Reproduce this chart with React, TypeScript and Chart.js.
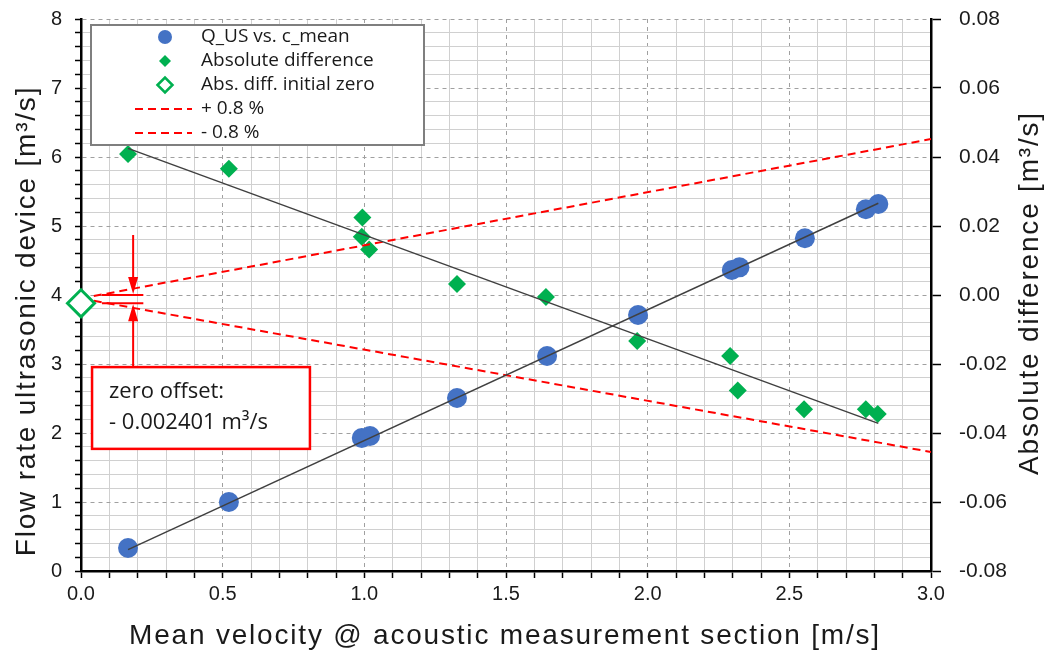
import React, { useEffect, useRef } from 'react';
import { Chart, registerables } from 'chart.js';

Chart.register(...registerables);

// ---- data ----
const velocityQ = [0.166, 0.522, 0.991, 1.02, 1.327, 1.645, 1.966, 2.297, 2.324, 2.555, 2.77, 2.814];
const flowQ = [0.333, 1.0, 1.928, 1.957, 2.507, 3.116, 3.71, 4.362, 4.401, 4.822, 5.242, 5.319];
const velocityDiff = [0.166, 0.522, 0.993, 0.991, 1.017, 1.327, 1.641, 1.963, 2.291, 2.318, 2.552, 2.77, 2.812];
const absDiff = [0.0409, 0.0366, 0.0225, 0.0169, 0.0132, 0.0032, -0.0006, -0.0133, -0.0177, -0.0277, -0.0331, -0.0331, -0.0345];
const zeroVelocity = [0];
const zeroDiff = [-0.002401];
const fitQx = [0.166, 2.814];
const fitQy = [0.31, 5.33];
const fitDiffX = [0.166, 2.814];
const fitDiffY = [0.0425, -0.0372];
const plusX = [0, 3.0];
const plusY = [-0.001, 0.0452];
const minusX = [0, 3.0];
const minusY = [-0.001, -0.0455];

const seriesLabels = ['Q_US vs. c_mean', 'Absolute difference', 'Abs. diff. initial zero', '+ 0.8 %', '- 0.8 %'];
const xTitle = 'Mean velocity @ acoustic measurement section [m/s]';
const yTitle = 'Flow rate ultrasonic device [m³/s]';
const y2Title = 'Absolute difference [m³/s]';
const annotationLines = ['zero offset:', '- 0.002401 m³/s'];

const BLUE = '#4472C4';
const GREEN = '#00B050';
const RED = '#FF0000';
const FIT = '#404040';
const MINOR = '#d0d0d0';
const MAJOR = '#a0a0a0';
const TICK_FONT = '"Liberation Sans", Arial, sans-serif';
const LEG_FONT = '"Open Sans", "Liberation Sans", sans-serif';

const pts = (xs: number[], ys: number[]) => xs.map((x, i) => ({ x, y: ys[i] }));
const isMajor = (v: number, step: number) => Math.abs(v / step - Math.round(v / step)) < 1e-6;

function drawMarker(ctx: CanvasRenderingContext2D, kind: string, x: number, y: number) {
  ctx.save();
  if (kind === 'circle') {
    ctx.fillStyle = BLUE;
    ctx.beginPath();
    ctx.arc(x, y, 7, 0, Math.PI * 2);
    ctx.fill();
  } else if (kind === 'diamond') {
    ctx.fillStyle = GREEN;
    ctx.beginPath();
    ctx.moveTo(x - 6, y); ctx.lineTo(x, y - 6); ctx.lineTo(x + 6, y); ctx.lineTo(x, y + 6);
    ctx.closePath();
    ctx.fill();
  } else if (kind === 'hollow') {
    ctx.strokeStyle = GREEN;
    ctx.fillStyle = '#fff';
    ctx.lineWidth = 2.5;
    ctx.beginPath();
    ctx.moveTo(x - 7.5, y); ctx.lineTo(x, y - 7.5); ctx.lineTo(x + 7.5, y); ctx.lineTo(x, y + 7.5);
    ctx.closePath();
    ctx.fill();
    ctx.stroke();
  } else {
    ctx.strokeStyle = RED;
    ctx.lineWidth = 2;
    ctx.setLineDash([8, 5]);
    ctx.beginPath();
    ctx.moveTo(x - 30, y); ctx.lineTo(x + 27, y);
    ctx.stroke();
  }
  ctx.restore();
}

function drawTitle(ctx: CanvasRenderingContext2D, text: string, x: number, y: number, rot: number) {
  ctx.save();
  ctx.fillStyle = '#1a1a1a';
  ctx.font = `28px ${TICK_FONT}`;
  (ctx as any).letterSpacing = '1.8px';
  ctx.textAlign = 'center';
  ctx.textBaseline = 'middle';
  ctx.translate(x, y);
  ctx.rotate(rot);
  ctx.fillText(text, 0, 0);
  ctx.restore();
}

const overlayPlugin = {
  id: 'overlay',
  afterDraw(chart: any) {
    const ctx: CanvasRenderingContext2D = chart.ctx;
    const xs = chart.scales.x;
    const y2 = chart.scales.y2;

    // --- axis titles ---
    drawTitle(ctx, xTitle, 505, 636, 0);
    drawTitle(ctx, yTitle, 27, 321, -Math.PI / 2);
    drawTitle(ctx, y2Title, 1030, 293, -Math.PI / 2);

    // --- zero-offset annotation ---
    const ax = xs.getPixelForValue(0.184);
    const l0 = xs.getPixelForValue(0.074);
    const l1 = xs.getPixelForValue(0.22);
    const yZero = y2.getPixelForValue(0);
    const yOff = y2.getPixelForValue(zeroDiff[0]);
    const bx0 = xs.getPixelForValue(0.039);
    const bx1 = xs.getPixelForValue(0.808);
    const by0 = y2.getPixelForValue(-0.0209);
    const by1 = y2.getPixelForValue(-0.0446);
    const arrowTop = y2.getPixelForValue(0.0174);

    ctx.save();
    ctx.strokeStyle = RED;
    ctx.fillStyle = RED;
    ctx.lineWidth = 2;
    ctx.beginPath();
    ctx.moveTo(l0, yZero); ctx.lineTo(l1, yZero);
    ctx.moveTo(l0, yOff); ctx.lineTo(l1, yOff);
    ctx.moveTo(ax, arrowTop); ctx.lineTo(ax, yZero - 14);
    ctx.moveTo(ax, by0); ctx.lineTo(ax, yOff + 14);
    ctx.stroke();
    ctx.beginPath();
    ctx.moveTo(ax, yZero - 1); ctx.lineTo(ax - 5, yZero - 18); ctx.lineTo(ax + 5, yZero - 18); ctx.closePath();
    ctx.moveTo(ax, yOff + 1); ctx.lineTo(ax - 5, yOff + 18); ctx.lineTo(ax + 5, yOff + 18); ctx.closePath();
    ctx.fill();

    ctx.fillStyle = '#fff';
    ctx.fillRect(bx0, by0, bx1 - bx0, by1 - by0);
    ctx.lineWidth = 2.5;
    ctx.strokeRect(bx0, by0, bx1 - bx0, by1 - by0);
    ctx.fillStyle = '#1a1a1a';
    ctx.font = `22px ${LEG_FONT}`;
    ctx.textAlign = 'left';
    ctx.textBaseline = 'middle';
    ctx.fillText(annotationLines[0], bx0 + 17, by0 + 25);
    ctx.fillText(annotationLines[1], bx0 + 17, by0 + 56);
    ctx.restore();

    // --- legend box ---
    ctx.save();
    ctx.fillStyle = '#fff';
    ctx.fillRect(91, 25, 333, 120);
    ctx.strokeStyle = '#7f7f7f';
    ctx.lineWidth = 2;
    ctx.strokeRect(91, 25, 333, 120);
    const kinds = ['circle', 'diamond', 'hollow', 'dash', 'dash'];
    ctx.font = `19px ${LEG_FONT}`;
    ctx.textAlign = 'left';
    ctx.textBaseline = 'middle';
    seriesLabels.forEach((label, i) => {
      const yy = 37 + i * 24;
      drawMarker(ctx, kinds[i], 165, yy);
      ctx.fillStyle = '#1a1a1a';
      ctx.fillText(label, 201, yy);
    });
    ctx.restore();
  },
};

export default function App() {
  const ref = useRef<HTMLCanvasElement | null>(null);

  useEffect(() => {
    document.body.style.margin = '0';
    if (!ref.current) return;
    const chart = new Chart(ref.current, {
      type: 'scatter',
      data: {
        datasets: [
          {
            label: '+0.8 line',
            data: pts(plusX, plusY),
            yAxisID: 'y2',
            showLine: true,
            borderColor: RED,
            borderWidth: 2,
            borderDash: [8, 5],
            pointRadius: 0,
            order: 2,
          },
          {
            label: '-0.8 line',
            data: pts(minusX, minusY),
            yAxisID: 'y2',
            showLine: true,
            borderColor: RED,
            borderWidth: 2,
            borderDash: [8, 5],
            pointRadius: 0,
            order: 2,
          },
          {
            label: seriesLabels[0],
            data: pts(velocityQ, flowQ),
            yAxisID: 'y',
            pointStyle: 'circle',
            pointRadius: 10,
            backgroundColor: BLUE,
            borderColor: BLUE,
            borderWidth: 0,
            order: 3,
          },
          {
            label: seriesLabels[1],
            data: pts(velocityDiff, absDiff),
            yAxisID: 'y2',
            pointStyle: 'rectRot',
            pointRadius: 9,
            backgroundColor: GREEN,
            borderColor: GREEN,
            borderWidth: 0,
            order: 3,
          },
          {
            label: 'fit Q',
            data: pts(fitQx, fitQy),
            yAxisID: 'y',
            showLine: true,
            borderColor: FIT,
            borderWidth: 1.5,
            pointRadius: 0,
            order: 1,
          },
          {
            label: 'fit diff',
            data: pts(fitDiffX, fitDiffY),
            yAxisID: 'y2',
            showLine: true,
            borderColor: FIT,
            borderWidth: 1.5,
            pointRadius: 0,
            order: 1,
          },
          {
            label: seriesLabels[2],
            data: pts(zeroVelocity, zeroDiff),
            yAxisID: 'y2',
            pointStyle: 'rectRot',
            pointRadius: 13.5,
            backgroundColor: '#ffffff',
            borderColor: GREEN,
            borderWidth: 3,
            order: 0,
            clip: false,
          } as any,
        ],
      },
      options: {
        animation: false,
        responsive: true,
        maintainAspectRatio: false,
        layout: { padding: { top: 19, left: 0, right: 0, bottom: 0 } },
        plugins: { legend: { display: false }, tooltip: { enabled: false } },
        scales: {
          x: {
            type: 'linear',
            position: 'bottom',
            min: 0,
            max: 3,
            afterFit: (s: any) => { s.height = 83; s.paddingLeft = 0; s.paddingRight = 0; },
            ticks: {
              stepSize: 0.1,
              autoSkip: false,
              maxRotation: 0,
              padding: 4,
              color: '#1a1a1a',
              font: { size: 20, family: TICK_FONT },
              callback: (v: any) => (isMajor(Number(v), 0.5) ? Number(v).toFixed(1) : ''),
            },
            grid: {
              color: (c: any) => (c.tick && isMajor(c.tick.value, 0.5) ? MAJOR : MINOR),
              lineWidth: 1,
              tickColor: '#000',
              tickLength: 7,
              tickWidth: 1.5,
            },
            border: {
              color: '#000',
              width: 2.5,
              dash: (c: any) => (c.tick && isMajor(c.tick.value, 0.5) ? [4, 4] : []),
            },
          },
          y: {
            type: 'linear',
            position: 'left',
            min: 0,
            max: 8,
            afterFit: (s: any) => { s.width = 81; s.paddingTop = 0; s.paddingBottom = 0; },
            ticks: {
              stepSize: 0.2,
              autoSkip: false,
              padding: 13,
              color: '#1a1a1a',
              font: { size: 20, family: TICK_FONT },
              callback: (v: any) => (isMajor(Number(v), 1) ? String(Math.round(Number(v))) : ''),
            },
            grid: {
              color: (c: any) => (c.tick && isMajor(c.tick.value, 1) ? MAJOR : MINOR),
              lineWidth: 1,
              tickColor: '#000',
              tickLength: 6,
              tickWidth: 1.5,
            },
            border: {
              color: '#000',
              width: 2.5,
              dash: (c: any) => (c.tick && isMajor(c.tick.value, 1) ? [4, 4] : []),
            },
          },
          y2: {
            type: 'linear',
            position: 'right',
            min: -0.08,
            max: 0.08,
            afterFit: (s: any) => { s.width = 120; s.paddingTop = 0; s.paddingBottom = 0; },
            ticks: {
              stepSize: 0.02,
              autoSkip: false,
              padding: 18,
              color: '#1a1a1a',
              font: { size: 21, family: TICK_FONT },
              callback: (v: any) => Number(v).toFixed(2),
            },
            grid: {
              drawOnChartArea: false,
              tickColor: '#000',
              tickLength: 10,
              tickWidth: 1.5,
            },
            border: { color: '#000', width: 2.5 },
          },
        },
      } as any,
      plugins: [overlayPlugin],
    });
    return () => chart.destroy();
  }, []);

  return (
    <div style={{ position: 'fixed', left: 0, top: 0, width: 1051, height: 654, background: '#fff' }}>
      <canvas ref={ref} />
    </div>
  );
}
